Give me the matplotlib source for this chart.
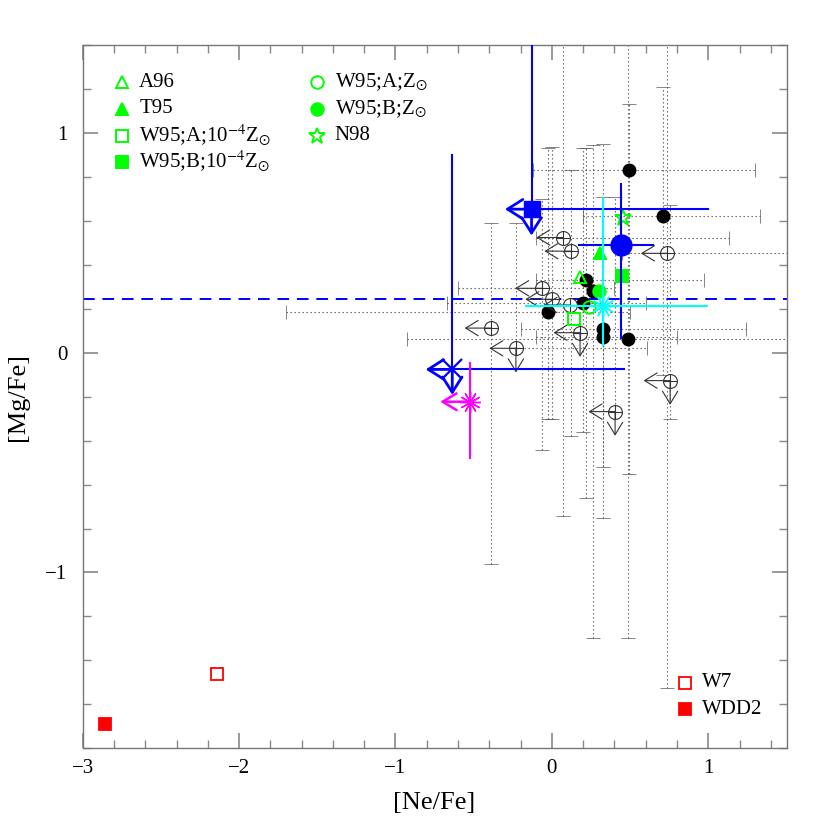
"""[Mg/Fe] vs [Ne/Fe] abundance plane with model yields and observed limits."""

import numpy as np
import matplotlib
matplotlib.use("Agg")
import matplotlib.pyplot as plt

nan = np.nan

# observed detections (black filled circles) and their dotted error ranges
det_x = [0.495, 0.709, 0.22, 0.20, -0.027, 0.329, 0.329, 0.485, 0.265]
det_y = [0.833, 0.623, 0.33, 0.225, 0.186, 0.106, 0.070, 0.062, 0.280]
det_xlo = [-0.12, 0.20, -0.10, -0.67, -1.70, -0.20, -0.10, -0.925, nan]
det_xhi = [1.30, 1.33, 0.97, 0.60, 0.50, 1.24, 0.80, 1.60, nan]
det_ylo = [-0.55, -0.10, -0.66, -0.36, -0.30, -0.52, -0.75, -1.30, -1.30]
det_yhi = [1.13, 1.21, 0.93, 0.93, 0.93, 0.71, 0.95, 1.50, 0.947]

# observed upper limits (open circle with cross)
lim_x = [0.070, 0.122, 0.739, -0.065, 0.000, 0.116, -0.388, 0.180, -0.230, 0.756, 0.404]
lim_y = [0.524, 0.462, 0.452, 0.293, 0.243, 0.217, 0.112, 0.091, 0.020, -0.127, -0.268]
lim_down = [False, False, False, False, False, False, False, True, True, True, True]
lim_xlo = [-0.10, nan, 0.45, -0.60, nan, nan, nan, nan, -0.23, nan, nan]
lim_xhi = [1.13, nan, 1.60, 0.40, nan, nan, nan, nan, 0.61, nan, nan]
lim_ylo = [-0.745, -0.377, -1.525, -0.444, -0.30, nan, -0.96, nan, nan, -0.30, nan]
lim_yhi = [1.50, 0.83, 1.50, 0.70, 0.934, nan, 0.59, nan, 0.59, 0.67, 0.709]

# highlighted objects
bsq = dict(x=-0.13, y=0.653, xhi=1.0, yhi=1.5)            # blue square, limits
bx = dict(x=-0.637, y=-0.076, xhi=0.463, yhi=0.899)       # blue cross, limits
bci = dict(x=0.442, y=0.490, xlo=0.167, xhi=0.655, ylo=0.062, yhi=0.773)
cya = dict(x=0.325, y=0.212, xlo=-0.172, xhi=1.0, ylo=0.030, yhi=0.709)
mag = dict(x=-0.524, y=-0.223, ylo=-0.48, yhi=-0.048)
mean_mg = 0.243

# model yields
model_names = ["A96", "T95", r"W95;A;10$^{-4}$Z$_{\odot}$", r"W95;B;10$^{-4}$Z$_{\odot}$",
               r"W95;A;Z$_{\odot}$", r"W95;B;Z$_{\odot}$", "N98"]
model_x = [0.18, 0.308, 0.141, 0.447, 0.235, 0.303, 0.457]
model_y = [0.345, 0.452, 0.152, 0.349, 0.21, 0.280, 0.611]
model_mk = ["^", "^", "s", "s", "o", "o", "*"]
model_fill = [False, True, False, True, False, True, False]

sn1a_names = ["W7", "WDD2"]
sn1a_x = [-2.143, -2.86]
sn1a_y = [-1.46, -1.688]
sn1a_fill = [False, True]

GREEN = "#00ff00"
BLUE = "#0000ff"
plt.rcParams["font.family"] = ["Liberation Serif", "DejaVu Serif"]
plt.rcParams["mathtext.fontset"] = "stix"


def arrow(ax, x, y, dx, dy, color, lw, hl, hw, z):
    ax.annotate("", xy=(x + dx, y + dy), xytext=(x, y),
                arrowprops=dict(arrowstyle=f"->,head_length={hl},head_width={hw}",
                                color=color, lw=lw, shrinkA=0, shrinkB=0),
                zorder=z)


def span(v, lo, hi):
    lo = np.asarray(lo, float)
    hi = np.asarray(hi, float)
    v = np.asarray(v, float)
    return [np.nan_to_num(v - lo), np.nan_to_num(hi - v)]


fig = plt.figure(figsize=(8.3, 8.3), dpi=100)
ax = fig.add_axes([0.0996, 0.0984, 0.848, 0.8474])

dot = (0, (1.2, 2.4))
for xs, ys, xlo, xhi, ylo, yhi in [(det_x, det_y, det_xlo, det_xhi, det_ylo, det_yhi),
                                   (lim_x, lim_y, lim_xlo, lim_xhi, lim_ylo, lim_yhi)]:
    eb = ax.errorbar(xs, ys, xerr=span(xs, xlo, xhi), yerr=span(ys, ylo, yhi),
                     fmt="none", ecolor="#555555", elinewidth=0.8, capsize=5,
                     capthick=0.5, zorder=1)
    for cl in eb[1]:
        cl.set_color("#aaaaaa")
    for lc in eb[2]:
        lc.set_linestyle(dot)

ax.axhline(mean_mg, color=BLUE, lw=1.4, ls=(0, (6, 4)), zorder=2)

# detections
ax.plot(det_x, det_y, "o", color="black", ms=9, zorder=3)

# upper limits
ax.plot(lim_x, lim_y, "o", mfc="white", mec="#333333", mew=0.8, ms=10, zorder=3)
ax.plot(lim_x, lim_y, "+", color="#333333", mew=0.8, ms=10, zorder=3)
for x, y, dn in zip(lim_x, lim_y, lim_down):
    arrow(ax, x, y, -0.17, 0, "#333333", 0.8, 0.9, 0.55, 3)
    if dn:
        arrow(ax, x, y, 0, -0.11, "#333333", 0.8, 0.9, 0.55, 3)

# model yields
for x, y, mk, f in zip(model_x, model_y, model_mk, model_fill):
    ax.plot(x, y, mk, color=GREEN, mfc=GREEN if f else "none", mew=1.4,
            ms=12 if mk == "*" else 9, zorder=5)
for x, y, f in zip(sn1a_x, sn1a_y, sn1a_fill):
    ax.plot(x, y, "s", color="red", mfc="red" if f else "none", mew=1.3, ms=8, zorder=5)

# blue square with limits
ax.plot([bsq["x"], bsq["xhi"]], [bsq["y"]] * 2, color=BLUE, lw=1.5, zorder=6)
ax.plot([bsq["x"]] * 2, [bsq["y"], bsq["yhi"]], color=BLUE, lw=1.5, zorder=6)
ax.plot(bsq["x"], bsq["y"], "s", color=BLUE, ms=11, zorder=7)
arrow(ax, bsq["x"], bsq["y"], -0.17, 0, BLUE, 2.0, 1.1, 0.7, 7)
arrow(ax, bsq["x"], bsq["y"], 0, -0.12, BLUE, 2.0, 1.1, 0.7, 7)

# blue cross with limits
ax.plot([bx["x"], bx["xhi"]], [bx["y"]] * 2, color=BLUE, lw=1.5, zorder=6)
ax.plot([bx["x"]] * 2, [bx["y"], bx["yhi"]], color=BLUE, lw=1.5, zorder=6)
ax.plot(bx["x"], bx["y"], "x", color=BLUE, ms=14, mew=1.6, zorder=7)
arrow(ax, bx["x"], bx["y"], -0.17, 0, BLUE, 2.0, 1.1, 0.7, 7)
arrow(ax, bx["x"], bx["y"], 0, -0.116, BLUE, 2.0, 1.1, 0.7, 7)

# blue circle
ax.errorbar(bci["x"], bci["y"], xerr=[[bci["x"] - bci["xlo"]], [bci["xhi"] - bci["x"]]],
            yerr=[[bci["y"] - bci["ylo"]], [bci["yhi"] - bci["y"]]],
            fmt="o", color=BLUE, ms=15, elinewidth=1.5, capsize=0, zorder=6)

# cyan
ax.errorbar(cya["x"], cya["y"], xerr=[[cya["x"] - cya["xlo"]], [cya["xhi"] - cya["x"]]],
            yerr=[[cya["y"] - cya["ylo"]], [cya["yhi"] - cya["y"]]],
            fmt="none", ecolor="cyan", elinewidth=1.5, capsize=0, zorder=6)
ax.plot(cya["x"], cya["y"], marker=(12, 2, 0), color="cyan", ms=16, mew=1.0, zorder=7)

# magenta
ax.plot([mag["x"]] * 2, [mag["ylo"], mag["yhi"]], color="magenta", lw=1.5, zorder=6)
ax.plot(mag["x"], mag["y"], marker=(12, 2, 0), color="magenta", ms=15, mew=1.0, zorder=7)
arrow(ax, mag["x"], mag["y"], -0.19, 0, "magenta", 1.8, 1.0, 0.6, 7)

# legends
tr = ax.transAxes
col_x = [0.0554, 0.3333]
row_y = [0.947, 0.909, 0.871, 0.834]
for i, (name, mk, f) in enumerate(zip(model_names, model_mk, model_fill)):
    c, r = (0, i) if i < 4 else (1, i - 4)
    ax.plot(col_x[c], row_y[r], mk, transform=tr, color=GREEN, mfc=GREEN if f else "none",
            mew=1.4, ms=12 if mk == "*" else 9, clip_on=False)
    ax.text(col_x[c] + 0.025, row_y[r], name, transform=tr, fontsize=15, va="center")
for i, (name, f) in enumerate(zip(sn1a_names, sn1a_fill)):
    y = [0.0933, 0.0555][i]
    ax.plot(0.856, y, "s", transform=tr, color="red", mfc="red" if f else "none",
            mew=1.3, ms=8)
    ax.text(0.880, y, name, transform=tr, fontsize=15, va="center")

ax.set_xlim(-3, 1.5)
ax.set_ylim(-1.8, 1.4)
ax.set_xticks([-3, -2, -1, 0, 1])
ax.set_yticks([-1, 0, 1])
ax.set_xticks(np.arange(-3, 1.51, 0.2), minor=True)
ax.set_yticks(np.arange(-1.8, 1.41, 0.2), minor=True)
ax.tick_params(which="both", direction="in", top=True, right=True, color="#888888",
               labelsize=15)
ax.tick_params(which="major", length=11, width=1.2, pad=8)
ax.tick_params(which="minor", length=6, width=1.0)
ax.tick_params(axis="y", pad=11)
for s in ax.spines.values():
    s.set_color("#777777")
    s.set_linewidth(1.0)
ax.set_xlabel("[Ne/Fe]", fontsize=19, labelpad=10)
ax.set_ylabel("[Mg/Fe]", fontsize=19, labelpad=12)

fig.savefig("out.png", dpi=100)
